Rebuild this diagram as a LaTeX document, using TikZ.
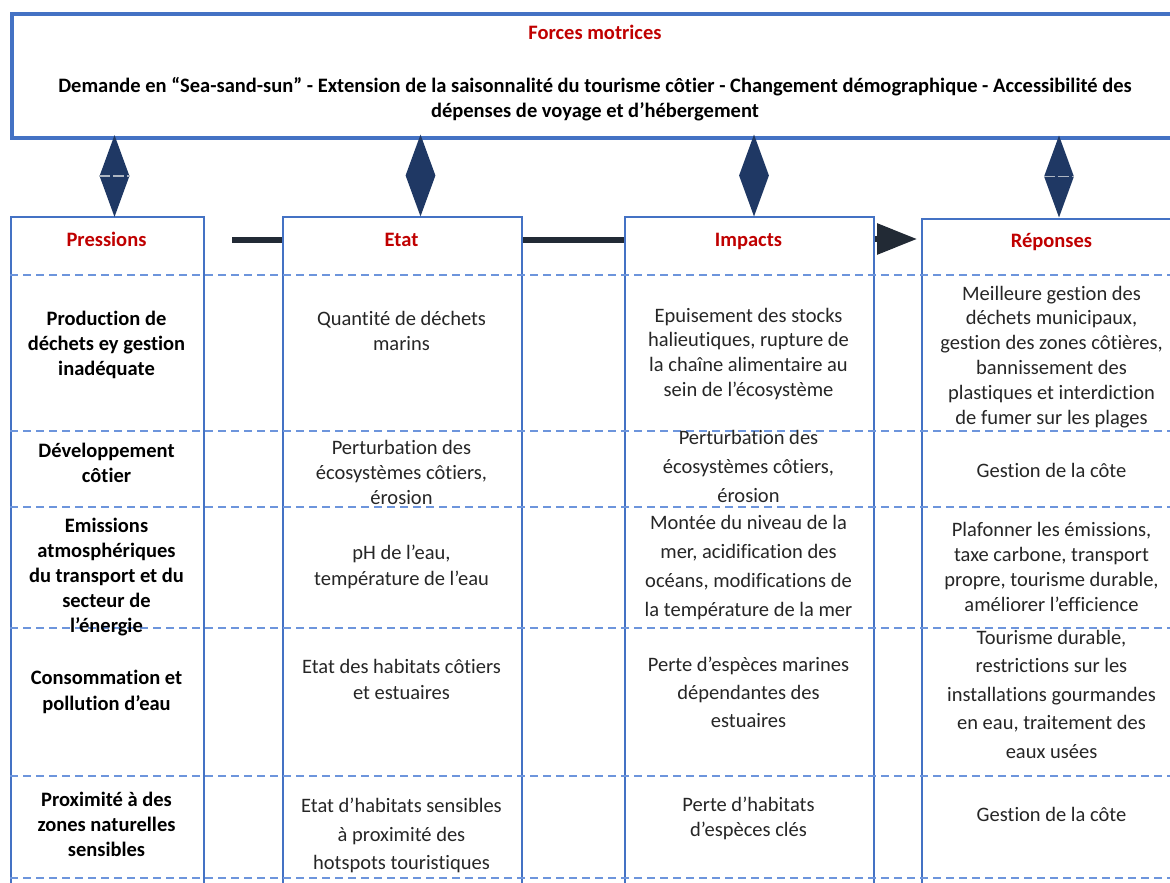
\documentclass[tikz,border=0pt]{standalone}
\usepackage{fontspec}
\setmainfont{Carlito}[Ligatures=NoCommon]
\usetikzlibrary{shapes.geometric,arrows.meta}

\definecolor{boxblue}{HTML}{4472C4}
\definecolor{gridblue}{HTML}{6D95DC}
\definecolor{navy}{HTML}{1F3864}
\definecolor{linkdark}{HTML}{222A35}
\definecolor{headred}{HTML}{C00000}
\definecolor{bodytext}{HTML}{262626}
\definecolor{markgray}{HTML}{AEB6C2}

\tikzset{
  colbox/.style={rectangle, draw=boxblue, line width=2pt, fill=white,
    anchor=north west, inner sep=0pt},
  topbox/.style={rectangle, draw=boxblue, line width=4pt, fill=white,
    anchor=north west, inner sep=0pt},
  rowline/.style={draw=gridblue, line width=1.6pt, dash pattern=on 8pt off 5pt},
  hdr/.style={text=headred, font=\fontsize{20.5}{25}\selectfont\bfseries,
    anchor=base, inner sep=0pt},
  cell/.style={align=center, anchor=north, inner sep=0pt, text=bodytext,
    font=\fontsize{20.5}{#1}\selectfont, execute at begin node=\strut,
    yshift=-4pt},
  cell/.default=25,
  bcell/.style={align=center, anchor=north, inner sep=0pt, text=black,
    font=\fontsize{20.5}{#1}\selectfont\bfseries, execute at begin node=\strut,
    yshift=-4pt},
  bcell/.default=25,
  link/.style={draw=linkdark, line width=6pt},
  dia/.style={diamond, fill=navy, minimum width=30pt, minimum height=82pt,
    inner sep=0pt},
  diamark/.style={draw=markgray, line width=1.2pt, dash pattern=on 11pt off 3pt}
}

\begin{document}
\begin{tikzpicture}[x=1pt,y=-1pt]
\useasboundingbox (0,0) rectangle (1170,883);
\clip (0,0) rectangle (1170,883);

% the four columns of the DPSIR table
\node[colbox, minimum width=193pt, minimum height=700pt] (pres) at (10,216) {};
\node[colbox, minimum width=239pt, minimum height=700pt] (etat) at (282,216) {};
\node[colbox, minimum width=249pt, minimum height=700pt] (imp)  at (624,216) {};
\node[colbox, minimum width=261pt, minimum height=700pt] (rep)  at (921,218) {};

% dashed row separators
\foreach \yy in {275,431,507,628,776,878}
  \draw[rowline] (10,\yy) -- (1170,\yy);

% column headers
\node[hdr] (hpres) at (106.5,246) {Pressions};
\node[hdr] (hetat) at (401.5,246) {Etat};
\node[hdr] (himp)  at (748.5,246) {Impacts};
\node[hdr] (hrep)  at (1051.5,247) {Réponses};

% Pressions
\node[bcell] (p1) at (106.5,306.5) {Production de\\déchets ey gestion\\inadéquate};
\node[bcell] (p2) at (106.5,438.5) {Développement\\côtier};
\node[bcell] (p3) at (106.5,513.5) {Emissions\\atmosphériques\\du transport et du\\secteur de\\l’énergie};
\node[bcell=26] (p4) at (106.5,665.8) {Consommation et\\pollution d’eau};
\node[bcell] (p5) at (106.5,787.5) {Proximité à des\\zones naturelles\\sensibles};

% Etat
\node[cell] (e1) at (401.5,307.5) {Quantité de déchets\\marins};
\node[cell] (e2) at (401.5,436.5) {Perturbation des\\écosystèmes côtiers,\\érosion};
\node[cell=26] (e3) at (401.5,540.8) {pH de l’eau,\\température de l’eau};
\node[cell=26] (e4) at (401.5,654.8) {Etat des habitats côtiers\\et estuaires};
\node[cell=28.5] (e5) at (401.5,794) {Etat d’habitats sensibles\\à proximité des\\hotspots touristiques};

% Impacts
\node[cell=24.7] (i1) at (748.5,303.7) {Epuisement des stocks\\halieutiques, rupture de\\la chaîne alimentaire au\\sein de l’écosystème};
\node[cell=29] (i2) at (748.5,425.7) {Perturbation des\\écosystèmes côtiers,\\érosion};
\node[cell=29] (i3) at (748.5,510.7) {Montée du niveau de la\\mer, acidification des\\océans, modifications de\\la température de la mer};
\node[cell=28] (i4) at (748.5,652.4) {Perte d’espèces marines\\dépendantes des\\estuaires};
\node[cell] (i5) at (748.5,792.5) {Perte d’habitats\\d’espèces clés};

% Réponses
\node[cell=24.8] (r1) at (1051.5,281.6) {Meilleure gestion des\\déchets municipaux,\\gestion des zones côtières,\\bannissement des\\plastiques et interdiction\\de fumer sur les plages};
\node[cell] (r2) at (1051.5,455.5) {Gestion de la côte};
\node[cell] (r3) at (1051.5,518.5) {Plafonner les émissions,\\taxe carbone, transport\\propre, tourisme durable,\\améliorer l’efficience};
\node[cell=28.5] (r4) at (1051.5,626) {Tourisme durable,\\restrictions sur les\\installations gourmandes\\en eau, traitement des\\eaux usées};
\node[cell] (r5) at (1051.5,799.5) {Gestion de la côte};

% driving forces box
\node[topbox, minimum width=1170pt, minimum height=124pt] (forces) at (10,12) {};
\node[hdr] (ftitle) at (595,40) {Forces motrices};
\node[bcell] (fdesc) at (595,73.5) {Demande en “Sea-sand-sun” - Extension de la saisonnalité du tourisme côtier - Changement démographique - Accessibilité des\\dépenses de voyage et d’hébergement};

% diamond links between the driving forces and each column
\node[dia] (d1) at (114.5,176) {};
\node[dia] (d2) at (420.5,175.5) {};
\node[dia] (d3) at (754,175.5) {};
\node[dia] (d4) at (1059,176.5) {};
\draw[diamark] (d1.west) -- (d1.east);
\draw[diamark] (d4.west) -- (d4.east);

% chain Pressions -> Etat -> Impacts -> Réponses
\coordinate (l1) at (232,240);
\draw[link] (l1) -- (etat.west |- l1);
\draw[link] (etat.east |- l1) -- (imp.west |- l1);
\draw[link, -{Triangle[length=40pt,width=30pt]}, shorten >=4pt]
  (imp.east |- 0,239) -- (rep.west |- 0,239);
\end{tikzpicture}
\end{document}
